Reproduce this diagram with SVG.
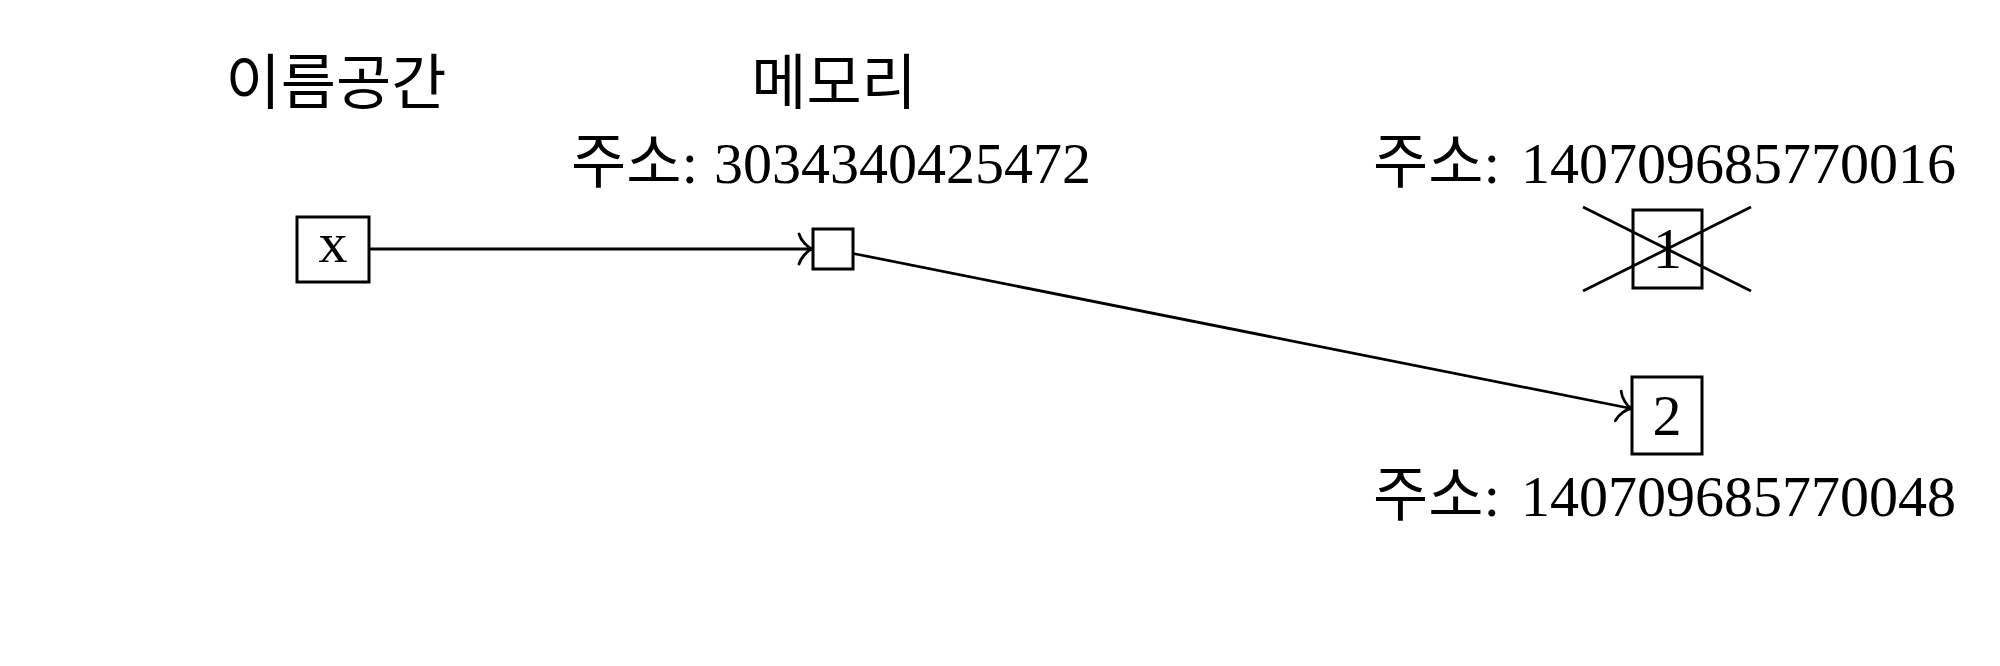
<svg xmlns="http://www.w3.org/2000/svg" width="2000" height="666" viewBox="0 0 2000 666">
  <style>
    .lbl { font-family: "Liberation Serif", "Noto Sans CJK KR", serif; font-size: 60px; fill: #000; }
    .num { font-family: "Liberation Serif", "Noto Sans CJK KR", serif; font-size: 58px; fill: #000; }
    .box { fill: #fff; stroke: #000; stroke-width: 3; }
    .edge { fill: none; stroke: #000; stroke-width: 2.8; }
    .cross { fill: none; stroke: #000; stroke-width: 2.8; }
  </style>
  <defs>
    <marker id="to" markerUnits="userSpaceOnUse" viewBox="-20 -20 24 40" markerWidth="24" markerHeight="40" refX="0" refY="0" orient="auto" overflow="visible">
      <path d="M -13,-15 C -11,-8 -4,-1.5 0,0 C -4,1.5 -11,8 -13,15" fill="none" stroke="#000" stroke-width="2.8" stroke-linecap="round"/>
    </marker>
  </defs>
  <rect width="2000" height="666" fill="#fff"/>

  <g id="headers">
    <text class="lbl" x="336" y="104" text-anchor="middle">이름공간</text>
    <text class="lbl" x="834" y="104" text-anchor="middle">메모리</text>
  </g>

  <g id="connectors">
    <line class="edge" x1="369" y1="249" x2="812" y2="249" marker-end="url(#to)"/>
    <line class="edge" x1="853" y1="253.5" x2="1631" y2="408.5" marker-end="url(#to)"/>
  </g>

  <g id="node-x">
    <rect class="box" x="297" y="217" width="72" height="65"/>
    <text class="num" x="333" y="262" text-anchor="middle">x</text>
  </g>

  <g id="node-ref">
    <rect class="box" x="813" y="229" width="40" height="40"/>
    <text class="lbl" x="571" y="183">주소:<tspan class="num" x="714">3034340425472</tspan></text>
  </g>

  <g id="node-1">
    <rect class="box" x="1633" y="210" width="69" height="78"/>
    <text class="num" x="1667.5" y="268" text-anchor="middle">1</text>
    <line class="cross" x1="1583" y1="207" x2="1751" y2="291"/>
    <line class="cross" x1="1583" y1="291" x2="1751" y2="207"/>
    <text class="lbl" x="1373" y="183">주소:<tspan class="num" x="1521">140709685770016</tspan></text>
  </g>

  <g id="node-2">
    <rect class="box" x="1632" y="377" width="70" height="77"/>
    <text class="num" x="1667" y="435" text-anchor="middle">2</text>
    <text class="lbl" x="1373" y="516">주소:<tspan class="num" x="1521">140709685770048</tspan></text>
  </g>
</svg>
